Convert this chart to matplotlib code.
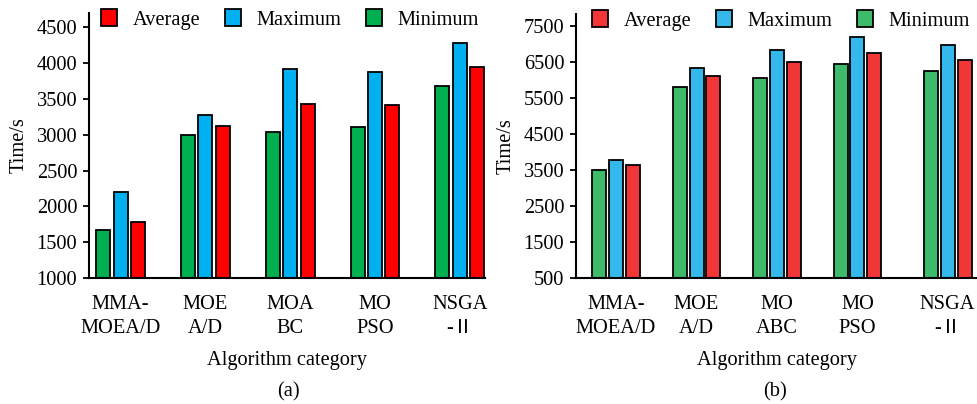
import matplotlib
matplotlib.use('Agg')
import matplotlib.pyplot as plt
import numpy as np

plt.rcParams['font.family'] = ['Liberation Serif', 'Noto Sans CJK SC', 'DejaVu Sans']
plt.rcParams['font.size'] = 14.7

# run times per algorithm, panel (a) and panel (b)
labels_a = ['MMA-\nMOEA/D', 'MOE\nA/D', 'MOA\nBC', 'MO\nPSO', 'NSGA\n-Ⅱ']
labels_b = ['MMA-\nMOEA/D', 'MOE\nA/D', 'MO\nABC', 'MO\nPSO', 'NSGA\n-Ⅱ']
min_a = [1670, 3000, 3045, 3105, 3680]
max_a = [2205, 3275, 3915, 3875, 4280]
avg_a = [1775, 3120, 3425, 3420, 3940]
min_b = [3485, 5810, 6050, 6430, 6255]
max_b = [3780, 6320, 6830, 7195, 6970]
avg_b = [3625, 6105, 6490, 6745, 6550]

fs = 14.7

fig = plt.figure(figsize=(9.78, 4.04), dpi=100)
ax1 = fig.add_axes([89/978, 126/404, 396/978, 265/404])
ax2 = fig.add_axes([576/978, 126/404, 402/978, 264/404])


def draw(ax, pos, width, step, mins, maxs, avgs, colors, labels, ylim, yticks, leg_x):
    pos = np.array(pos)
    b_min = ax.bar(pos - step, mins, width, color=colors[0], edgecolor='black', linewidth=1.3, zorder=2)
    b_max = ax.bar(pos, maxs, width, color=colors[1], edgecolor='black', linewidth=1.3, zorder=2)
    b_avg = ax.bar(pos + step, avgs, width, color=colors[2], edgecolor='black', linewidth=1.3, zorder=2)
    ax.set_ylim(*ylim)
    ax.set_yticks(yticks)
    ax.set_xticks(pos)
    ax.set_xticklabels(labels, linespacing=1.35)
    for s in ['top', 'right']:
        ax.spines[s].set_visible(False)
    for s in ['left', 'bottom']:
        ax.spines[s].set_linewidth(1.5)
    ax.tick_params(axis='y', direction='out', length=4.5, width=1.3, pad=4, labelsize=fs)
    ax.tick_params(axis='x', direction='in', length=6.5, width=1.5, pad=12, labelsize=fs)
    ax.set_ylabel('Time/s', fontsize=fs, labelpad=6)
    ax.set_xlabel('Algorithm category', fontsize=fs, labelpad=10)
    ax.legend([b_avg, b_max, b_min], ['Average', 'Maximum', 'Minimum'],
              loc='upper left', bbox_to_anchor=(leg_x, 1.015), ncol=3, frameon=False,
              borderpad=0, borderaxespad=0, handlelength=0.8, handleheight=0.9,
              handletextpad=0.75, columnspacing=1.2, fontsize=fs)


draw(ax1, [0, 1, 2, 3, 4], 0.165, 0.206, min_a, max_a, avg_a,
     ['#00B050', '#00B0F0', '#FF0000'], labels_a,
     (1000, 4700), [1000, 1500, 2000, 2500, 3000, 3500, 4000, 4500], 0.03)
ax1.set_xlim(-0.373, 4.297)

draw(ax2, [0, 1, 2, 3, 4.12], 0.174, 0.211, min_b, max_b, avg_b,
     ['#3DBA6A', '#35B9EC', '#F03636'], labels_b,
     (500, 7830), [500, 1500, 2500, 3500, 4500, 5500, 6500, 7500], 0.04)
ax2.set_xlim(-0.497, 4.497)

fig.text(288/978, 1 - 392/404, '(a)', ha='center', va='center', fontsize=fs)
fig.text(775/978, 1 - 392/404, '(b)', ha='center', va='center', fontsize=fs)

fig.savefig('out.png', dpi=100)
